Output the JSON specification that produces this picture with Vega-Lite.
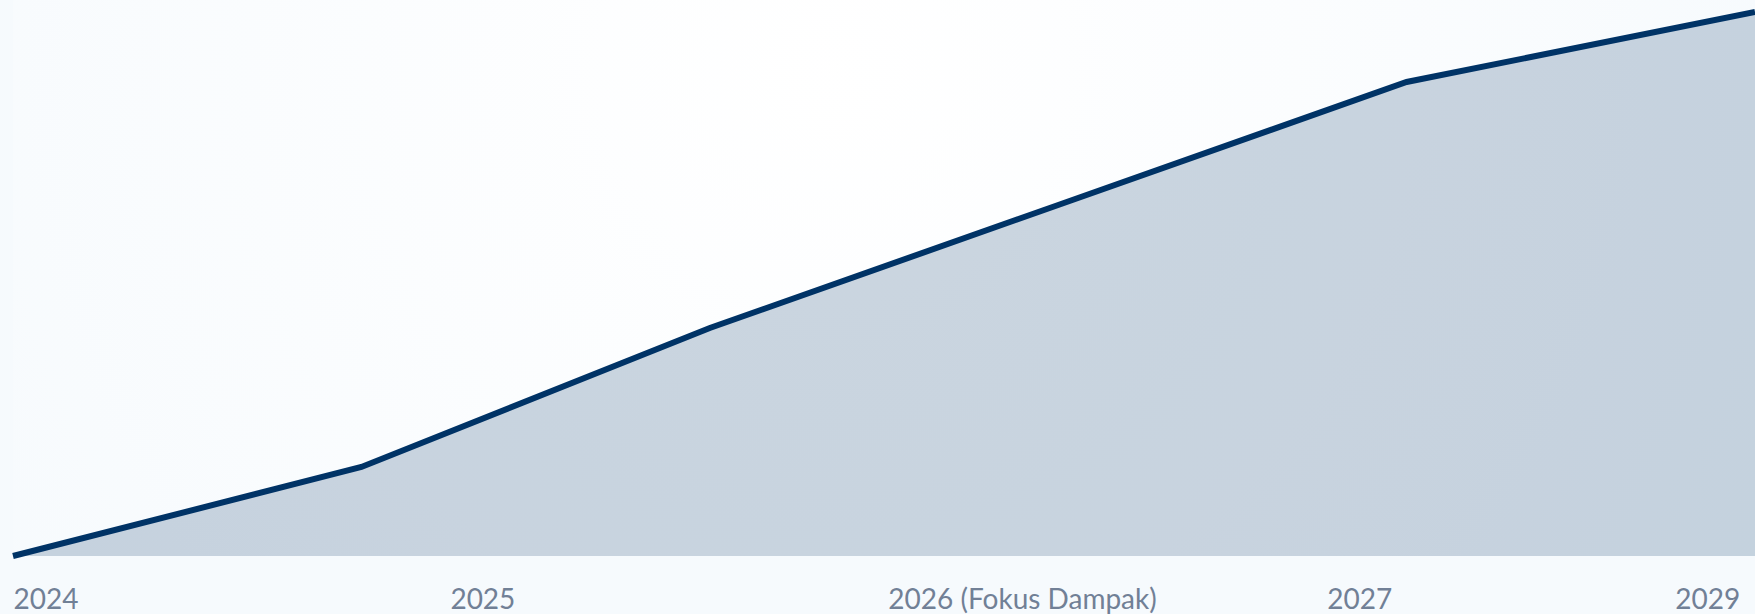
{
  "$schema": "https://vega.github.io/schema/vega-lite/v6.json",
  "width": 1742,
  "height": 556,
  "autosize": {"type": "none"},
  "padding": {"left": 13, "top": 0, "right": 0, "bottom": 58},
  "background": "#f6fafd",
  "view": {"stroke": null, "fill": {"gradient": "radial", "x1": 0.47, "y1": 0.38, "r1": 0, "x2": 0.47, "y2": 0.38, "r2": 0.6,
        "stops": [{"offset": 0, "color": "#ffffff"}, {"offset": 1, "color": "#f6fafd"}]}},
  "data": {"values": [
    {"t": 0, "v": 0},
    {"t": 1, "v": 89},
    {"t": 2, "v": 228},
    {"t": 3, "v": 351},
    {"t": 4, "v": 474},
    {"t": 5, "v": 544}
  ]},
  "encoding": {
    "x": {"field": "t", "type": "quantitative",
      "scale": {"domain": [0, 5], "nice": false, "zero": false},
      "axis": {
        "values": [0, 1.254, 2.511, 3.771, 4.77],
        "labelExpr": "datum.value < 0.5 ? '2024' : datum.value < 2 ? '2025' : datum.value < 3 ? '2026 (Fokus Dampak)' : datum.value < 4.2 ? '2027' : '2029'",
        "title": null, "grid": false, "domain": false, "ticks": false,
        "labelAlign": "left", "labelBaseline": "alphabetic", "labelPadding": 52,
        "labelFont": "Lato", "labelFontSize": 28, "labelColor": "#718096",
        "labelOverlap": false, "labelBound": false, "labelFlush": false, "labelLimit": 0
      }},
    "y": {"field": "v", "type": "quantitative",
      "scale": {"domain": [0, 556], "nice": false},
      "axis": null}
  },
  "layer": [
    {"mark": {"type": "area", "color": "#003366", "opacity": 0.2}},
    {"mark": {"type": "line", "color": "#003366", "strokeWidth": 6, "strokeCap": "butt", "strokeJoin": "miter"}}
  ]
}
